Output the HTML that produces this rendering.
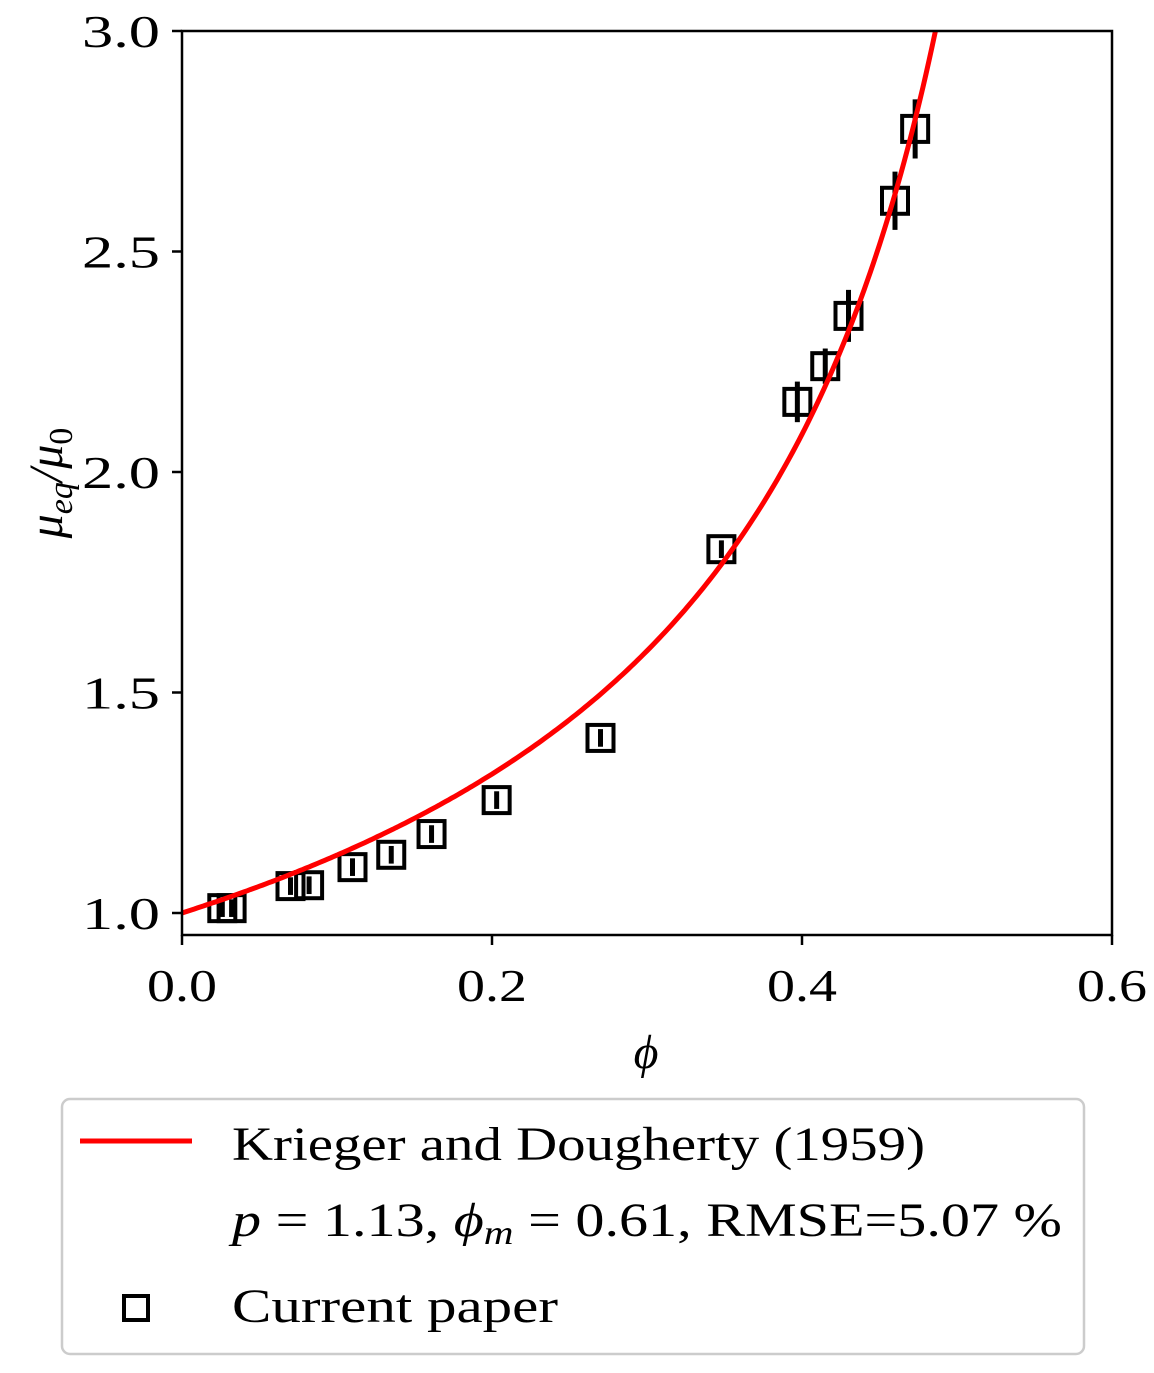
<!DOCTYPE html>
<html><head><meta charset="utf-8"><style>
body{margin:0;background:#fff}
svg text{font-family:"Liberation Serif",serif;fill:#000}
</style></head><body>
<svg id="chart" width="1154" height="1368" xmlns="http://www.w3.org/2000/svg">
<g id="plot"></g>
<rect x="182" y="31" width="930" height="904" fill="none" stroke="#000" stroke-width="2.5"/>
<g id="ticks"></g>
<text x="646" y="1068" font-size="48" font-style="italic" text-anchor="middle">ϕ</text>
<text transform="translate(62,483) rotate(-90)" font-size="48" font-style="italic" text-anchor="middle">μ<tspan font-size="34" dy="10">eq</tspan><tspan dy="-10">/μ</tspan><tspan font-size="34" dy="10" font-style="normal">0</tspan></text>
<g>
<rect x="62" y="1099" width="1022" height="255" rx="8" fill="#fff" stroke="#ccc" stroke-width="2.5"/>
<line x1="80" y1="1141" x2="192" y2="1141" stroke="#f00" stroke-width="5"/>
<text x="232" y="1160" font-size="48" textLength="693" lengthAdjust="spacingAndGlyphs">Krieger and Dougherty (1959)</text>
<text x="232" y="1236" font-size="48" textLength="830" lengthAdjust="spacingAndGlyphs"><tspan font-style="italic">p</tspan> = 1.13, <tspan font-style="italic">ϕ</tspan><tspan font-size="34" dy="8" font-style="italic">m</tspan><tspan dy="-8"> = 0.61, RMSE=5.07 %</tspan></text>
<rect x="124" y="1296" width="24" height="24" fill="none" stroke="#000" stroke-width="4"/>
<text x="232" y="1322" font-size="48" textLength="326" lengthAdjust="spacingAndGlyphs">Current paper</text>
</g>
</svg>
<script>
const phi=[0.026,0.032,0.070,0.082,0.110,0.135,0.161,0.203,0.270,0.348,0.397,0.415,0.430,0.460,0.473];
const mu=[1.011,1.011,1.061,1.063,1.104,1.132,1.179,1.256,1.397,1.825,2.159,2.240,2.354,2.615,2.778];
const err=[0.02,0.02,0.02,0.02,0.02,0.02,0.02,0.02,0.02,0.02,0.046,0.04,0.059,0.066,0.067];
const xTicks=[0.0,0.2,0.4,0.6];
const yTicks=[1.0,1.5,2.0,2.5,3.0];
const fitP=1.13, fitPhiM=0.61;
const NS="http://www.w3.org/2000/svg";
const X=v=>182+v*1550, Y=v=>913-(v-1)*441;
const plot=document.getElementById('plot'), tk=document.getElementById('ticks');
function mk(t,a,parent){const e=document.createElementNS(NS,t);for(const k in a)e.setAttribute(k,a[k]);parent.appendChild(e);return e;}
xTicks.forEach(v=>{
 const l=mk('line',{x1:X(v),x2:X(v),y1:935,y2:945,stroke:'#000','stroke-width':2.5},tk);
 
 
 const t=mk('text',{x:X(v)-35,y:1001,'font-size':46,textLength:70,lengthAdjust:'spacingAndGlyphs'},tk);t.textContent=v.toFixed(1);
 
 
});
yTicks.forEach(v=>{
 const l=mk('line',{x1:172,x2:182,y1:Y(v),y2:Y(v),stroke:'#000','stroke-width':2.5},tk);
 
 
 const t=mk('text',{x:82,y:Y(v)+16,'font-size':46,textLength:78,lengthAdjust:'spacingAndGlyphs'},tk);t.textContent=v.toFixed(1);
 
 
});
phi.forEach((p,i)=>{
 const e=mk('line',{x1:X(p),x2:X(p),y1:Y(mu[i]+err[i]),y2:Y(mu[i]-err[i]),stroke:'#000','stroke-width':5},plot);
 
 
 const r=mk('rect',{x:X(p)-13,y:Y(mu[i])-13,width:26,height:26,fill:'none',stroke:'#000','stroke-width':4},plot);
 
 
});
let d='';
for(let p=0;p<=0.5;p+=0.002){const m=Math.pow(1-p/fitPhiM,-fitP*fitPhiM);if(m>3.05)break;d+=(d?'L':'M')+X(p).toFixed(1)+','+Y(m).toFixed(1);}
const cp=mk('clipPath',{id:'clip'},plot);mk('rect',{x:182,y:31,width:930,height:904},cp);
const c=mk('path',{d:d,fill:'none',stroke:'#f00','stroke-width':5,'clip-path':'url(#clip)'},plot);


</script>
</body></html>
